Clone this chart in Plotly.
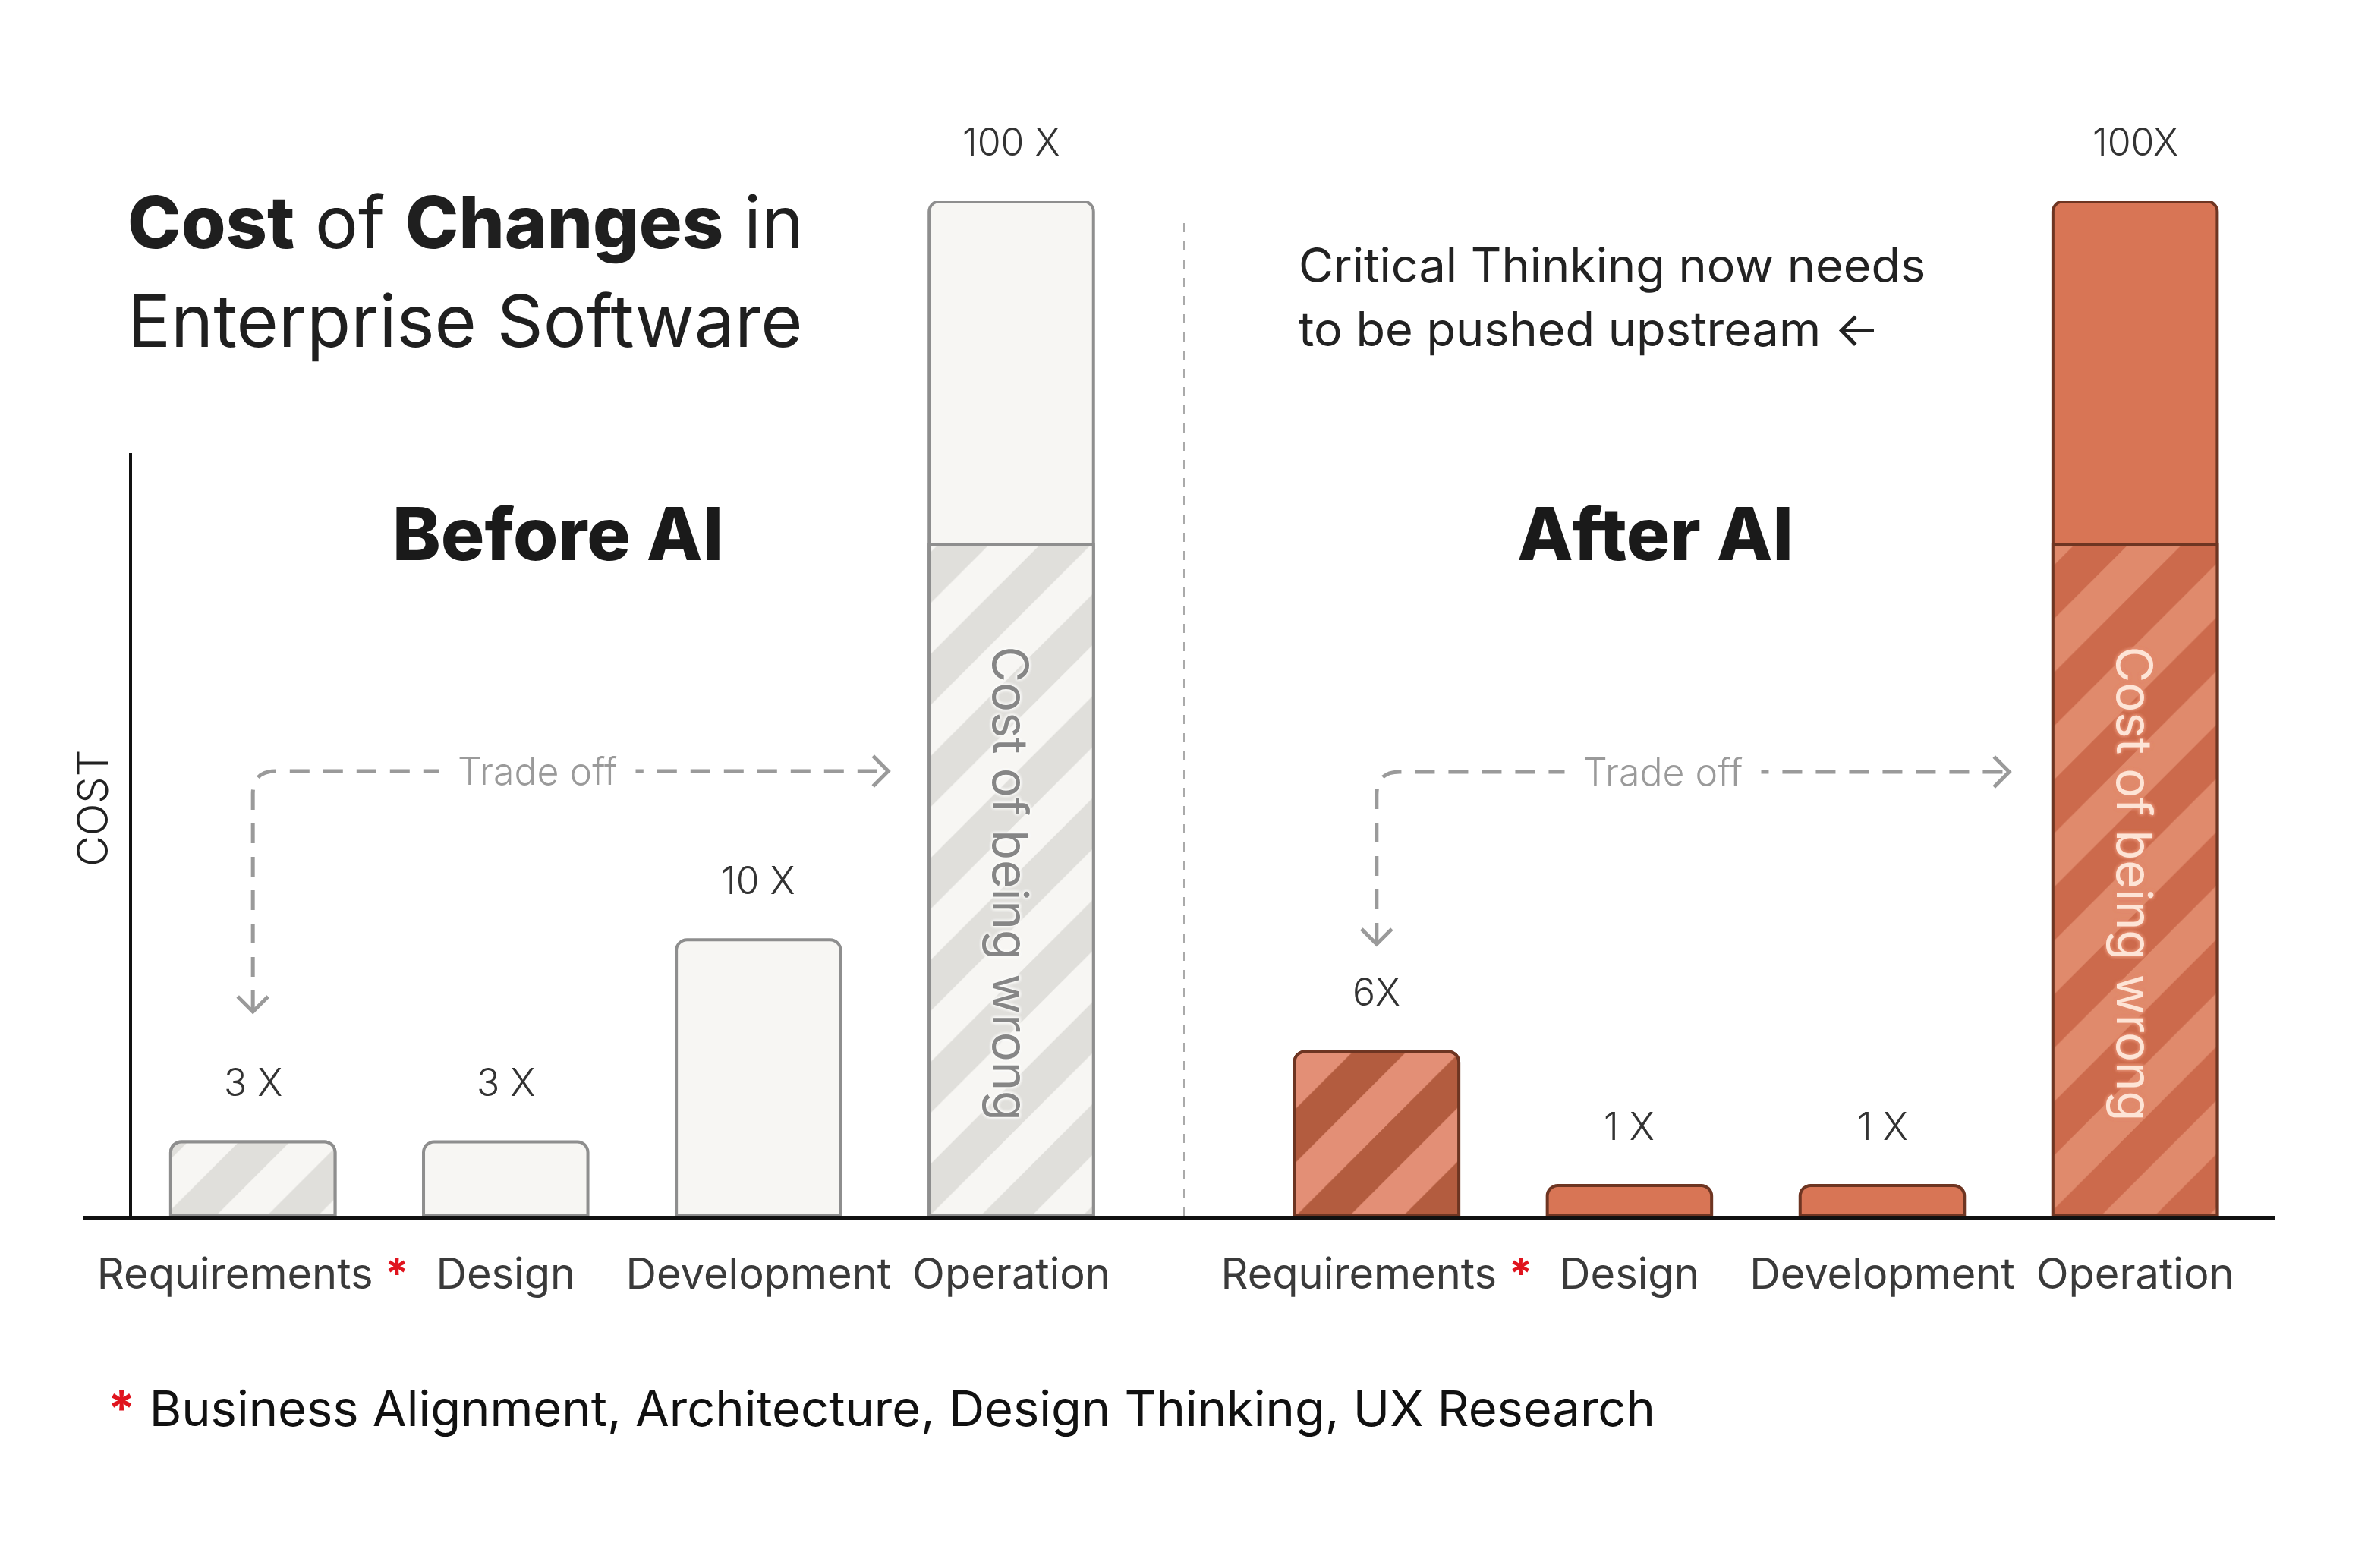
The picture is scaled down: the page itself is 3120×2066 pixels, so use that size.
import plotly.graph_objects as go

# ---------------- data ----------------
categories = ["Requirements", "Design", "Development", "Operation"]
before_pos = [1.0, 2.0, 3.0, 4.0]
after_pos = [5.445, 6.445, 7.445, 8.445]

# visual bar heights (chart is not to scale, Operation = 100)
before_total = [7.3, 7.3, 27.2, 100]
before_wrong = [7.3, None, None, 66.2]
after_total = [16.2, 3.0, 3.0, 100]
after_wrong = [16.2, None, None, 66.2]

before_labels = ["3 X", "3 X", "10 X", "100 X"]
after_labels = ["6X", "1 X", "1 X", "100X"]

FONT = "Inter, 'Open Sans', sans-serif"
W, H = 3120, 2066
ML, MR, MT, MB = 110, 122, 265, 464
PLOT_W = W - ML - MR
PLOT_H = H - MT - MB
BASE_Y = H - MB


def pxp(p):  # pixel x -> paper
    return (p - ML) / PLOT_W


def pyp(p):  # pixel y -> paper
    return (BASE_Y - p) / PLOT_H


XR = [0.33, 9.0]
YR = [0, 100]
ux = PLOT_W / (XR[1] - XR[0])
uy = PLOT_H / (YR[1] - YR[0])

fig = go.Figure()

BW = 0.65
CR = 14

# Before AI
fig.add_bar(x=before_pos, y=before_total, width=BW,
            marker=dict(color="#f7f6f3", line=dict(color="#8e8e8e", width=4), cornerradius=CR),
            hoverinfo="skip", showlegend=False)
fig.add_bar(x=before_pos, y=before_wrong, width=BW,
            marker=dict(color="#f7f6f3", line=dict(color="#8e8e8e", width=4), cornerradius=CR,
                        pattern=dict(shape="/", fgcolor="#e0dfdb", bgcolor="#f7f6f3",
                                     size=95, solidity=0.5, fillmode="replace")),
            hoverinfo="skip", showlegend=False)
# After AI
fig.add_bar(x=after_pos, y=after_total, width=BW,
            marker=dict(color="#d87555", line=dict(color="#6e3522", width=4), cornerradius=CR),
            hoverinfo="skip", showlegend=False)
fig.add_bar(x=after_pos[:1], y=after_wrong[:1], width=BW,
            marker=dict(color="#e38f76", line=dict(color="#6e3522", width=4), cornerradius=CR,
                        pattern=dict(shape="/", fgcolor="#b35c3f", bgcolor="#e38f76",
                                     size=100, solidity=0.5, fillmode="replace")),
            hoverinfo="skip", showlegend=False)
fig.add_bar(x=after_pos[3:], y=after_wrong[3:], width=BW,
            marker=dict(color="#e08a6c", line=dict(color="#6e3522", width=4), cornerradius=CR,
                        pattern=dict(shape="/", fgcolor="#cc6a4c", bgcolor="#e08a6c",
                                     size=100, solidity=0.5, fillmode="replace")),
            hoverinfo="skip", showlegend=False)

annotations = []
# value labels
for xs, ys, labs in [(before_pos, before_total, before_labels), (after_pos, after_total, after_labels)]:
    for x, y, t in zip(xs, ys, labs):
        annotations.append(dict(x=x, y=y, xref="x", yref="y", text=t, showarrow=False,
                                yanchor="middle", yshift=78,
                                font=dict(family=FONT, size=50, color="#333333", weight=300)))

# "Cost of being wrong"
annotations.append(dict(x=before_pos[3], y=(BASE_Y - 1164) / uy, xref="x", yref="y",
                        text="Cost of being wrong", textangle=90, showarrow=False,
                        font=dict(family=FONT, size=65, color="#868686", weight=400,
                                  shadow="0 0 5px #fbfbf9, 0 0 5px #fbfbf9, 0 0 5px #fbfbf9, 0 0 3px #fbfbf9")))
annotations.append(dict(x=after_pos[3], y=(BASE_Y - 1164) / uy, xref="x", yref="y",
                        text="Cost of being wrong", textangle=90, showarrow=False,
                        font=dict(family=FONT, size=65, color="#fde4d6", weight=400,
                                  shadow="0 0 5px #e38d70, 0 0 5px #e38d70, 0 0 5px #e38d70, 0 0 3px #e38d70")))

BOLD = "<span style='font-weight:800'>{}</span>"
# titles
annotations += [
    dict(x=pxp(166), y=pyp(292), xref="paper", yref="paper", xanchor="left", yanchor="middle",
         text=BOLD.format("Cost") + " of " + BOLD.format("Changes") + " in", showarrow=False,
         font=dict(family=FONT, size=95, color="#1f1f1f")),
    dict(x=pxp(166), y=pyp(422), xref="paper", yref="paper", xanchor="left", yanchor="middle",
         text="Enterprise Software", showarrow=False,
         font=dict(family=FONT, size=95, color="#1f1f1f")),
    dict(x=pxp(735), y=pyp(703), xref="paper", yref="paper", xanchor="center", yanchor="middle",
         text="Before AI", showarrow=False,
         font=dict(family=FONT, size=96, color="#1a1a1a", weight=800)),
    dict(x=pxp(2181), y=pyp(703), xref="paper", yref="paper", xanchor="center", yanchor="middle",
         text="After AI", showarrow=False,
         font=dict(family=FONT, size=96, color="#1a1a1a", weight=800)),
    dict(x=pxp(1709), y=pyp(349), xref="paper", yref="paper", xanchor="left", yanchor="middle",
         text="Critical Thinking now needs", showarrow=False,
         font=dict(family=FONT, size=63, color="#222222")),
    dict(x=pxp(1709), y=pyp(433), xref="paper", yref="paper", xanchor="left", yanchor="middle",
         text="to be pushed upstream \u2190", showarrow=False,
         font=dict(family=FONT, size=63, color="#222222")),
    dict(x=pxp(122), y=pyp(1065), xref="paper", yref="paper", xanchor="center", yanchor="middle",
         text="COST", textangle=-90, showarrow=False,
         font=dict(family=FONT, size=56, color="#222222", weight=300)),
    dict(x=pxp(140), y=pyp(1855), xref="paper", yref="paper", xanchor="left", yanchor="middle",
         text="<span style='color:#e0141e'><b>*</b></span> Business Alignment, Architecture, Design Thinking, UX Research",
         showarrow=False, font=dict(family=FONT, size=65, color="#111111")),
]

shapes = []
# y axis line
shapes.append(dict(type="line", xref="x", yref="y", x0=XR[0] + (172 - ML) / ux, x1=XR[0] + (172 - ML) / ux,
                   y0=0, y1=(BASE_Y - 597) / uy, line=dict(color="#111111", width=4), layer="above"))
# separator
sep_x = XR[0] + (1560 - ML) / ux
shapes.append(dict(type="line", xref="x", yref="y", x0=sep_x, x1=sep_x, y0=0, y1=(BASE_Y - 285) / uy,
                   line=dict(color="#aaaaaa", width=2, dash="12px,12px")))

# trade-off arrows
GRAY = "#9a9a9a"


def trade_off(x0, ytip, ytop, xend, xtext):
    rx, ry = 30 / ux, 30 / uy
    shapes.append(dict(type="path", xref="x", yref="y",
                       path=f"M {x0},{ytip + 2 / uy} L {x0},{ytop - ry} Q {x0},{ytop} {x0 + rx},{ytop} L {xend - 3 / ux},{ytop}",
                       line=dict(color=GRAY, width=5, dash="26px,18px")))
    dx, dy = 20 / ux, 20 / uy
    shapes.append(dict(type="path", xref="x", yref="y",
                       path=f"M {x0 - dx},{ytip + dy} L {x0},{ytip} L {x0 + dx},{ytip + dy}",
                       line=dict(color=GRAY, width=5)))
    shapes.append(dict(type="path", xref="x", yref="y",
                       path=f"M {xend - dx},{ytop + dy} L {xend},{ytop} L {xend - dx},{ytop - dy}",
                       line=dict(color=GRAY, width=5)))
    annotations.append(dict(x=xtext, y=ytop, xref="x", yref="y", text="Trade off", showarrow=False,
                            bgcolor="white", borderpad=24,
                            font=dict(family=FONT, size=50, color="#9a9a9a", weight=300)))


trade_off(before_pos[0], (BASE_Y - 1333) / uy, (BASE_Y - 1016) / uy,
          before_pos[3] - 0.487, XR[0] + (708 - ML) / ux)
trade_off(after_pos[0], (BASE_Y - 1244) / uy, (BASE_Y - 1017) / uy,
          after_pos[3] - 0.498, XR[0] + (2191 - ML) / ux)

ticktext = [c + (" <span style='color:#e0141e'><b>*</b></span>" if c == "Requirements" else "") for c in categories]

fig.update_layout(
    width=W, height=H,
    margin=dict(l=ML, r=MR, t=MT, b=MB, autoexpand=False),
    paper_bgcolor="white", plot_bgcolor="white",
    barmode="overlay",
    xaxis=dict(range=XR, tickvals=before_pos + after_pos, ticktext=ticktext * 2,
               showgrid=False, zeroline=False, showline=True, linecolor="#111111", linewidth=5,
               ticks="outside", ticklen=24, tickcolor="rgba(0,0,0,0)",
               tickfont=dict(family=FONT, size=56, color="#3a3a3a"), fixedrange=True),
    yaxis=dict(range=YR, visible=False, fixedrange=True),
    annotations=annotations, shapes=shapes,
    showlegend=False,
)

fig.write_html("out.html")
